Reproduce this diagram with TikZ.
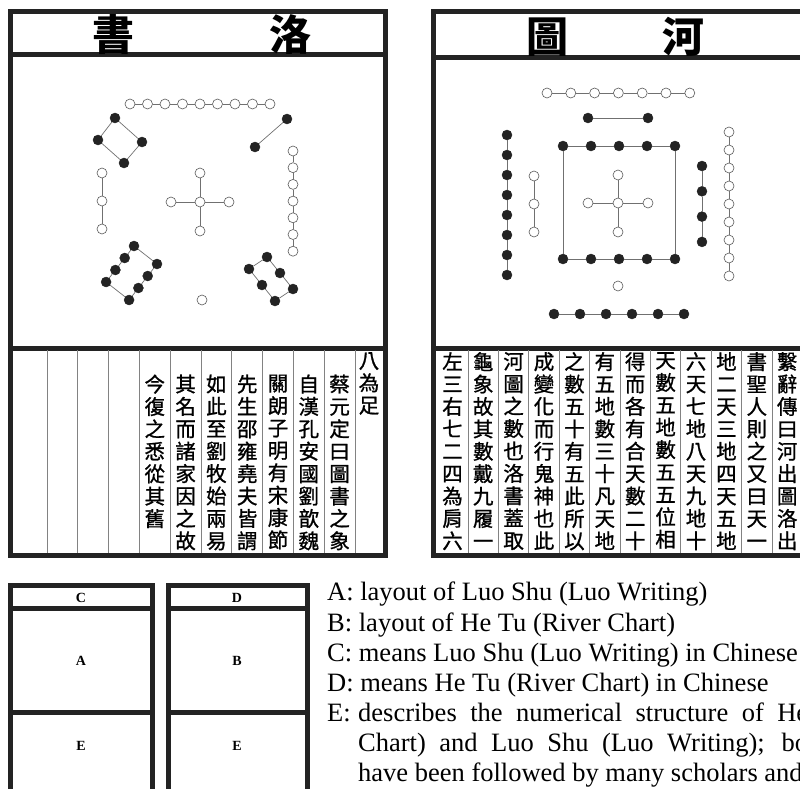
\documentclass[tikz,border=0pt]{standalone}
\usepackage{fontspec}
\setmainfont{Liberation Serif}
\newfontfamily\cjk{Noto Sans CJK TC}
\newfontfamily\cjkcol[FakeBold=1]{Noto Sans CJK TC}
\XeTeXlinebreaklocale "zh"
\XeTeXlinebreakskip=0pt plus 1pt
\usetikzlibrary{positioning}
\definecolor{ink}{RGB}{35,35,35}
\definecolor{rulecol}{RGB}{130,130,130}

\tikzset{
  frame/.style={draw=ink,line width=5pt},
  wdot/.style={circle,draw=ink!75,fill=white,line width=0.6pt,minimum size=10pt,inner sep=0pt},
  bdot/.style={circle,draw=ink,fill=ink,minimum size=10pt,inner sep=0pt},
  link/.style={draw=ink!65,line width=0.7pt},
  col/.style={font=\cjkcol\fontsize{20.5}{22.4}\selectfont,text width=24pt,align=center,inner sep=0pt,anchor=north},
  bigchar/.style={font=\cjk\bfseries\fontsize{42}{42}\selectfont,inner sep=0pt},
  boxlab/.style={font=\bfseries\fontsize{14}{14}\selectfont,inner sep=0pt},
  legend/.style={font=\fontsize{26.5}{30}\selectfont,anchor=base west,inner sep=0pt},
}

\begin{document}
\begin{tikzpicture}[x=1pt,y=-1pt]
  \fill[white] (0,0) rectangle (800,789);
  \useasboundingbox (0,0) rectangle (800,789);

  % ---------- Luo Shu
  \draw[frame] (10,12) rectangle (385,555);
  \draw[frame] (10,55) -- (385,55);
  \draw[frame] (10,348) -- (385,348);
  \node[bigchar] (lstitA) at (113,35) {書};
  \node[bigchar] (lstitB) at (290,35) {洛};
  % nine
  \foreach \i in {1,...,9}
    \node[wdot] (lsn\i) at ({130+17.5*(\i-1)},104) {};
  \foreach \i [count=\j from 2] in {1,...,8}
    \draw[link] (lsn\i) -- (lsn\j);
  % four
  \foreach \p [count=\i] in {(115,118),(142,142),(124,163),(98,140)}
    \node[bdot] (lsf\i) at \p {};
  \draw[link] (lsf1) -- (lsf2) -- (lsf3) -- (lsf4) -- (lsf1);
  % two
  \node[bdot] (lst1) at (287,119) {};
  \node[bdot] (lst2) at (255,147) {};
  \draw[link] (lst1) -- (lst2);
  % three
  \foreach \i in {1,2,3}
    \node[wdot] (lsh\i) at (102,{173+28*(\i-1)}) {};
  \draw[link] (lsh1) -- (lsh2) -- (lsh3);
  % five
  \node[wdot] (lsc0) at (200,202) {};
  \node[wdot] (lsc1) at (200,173) {};
  \node[wdot] (lsc2) at (229,202) {};
  \node[wdot] (lsc3) at (200,231) {};
  \node[wdot] (lsc4) at (171,202) {};
  \foreach \i in {1,...,4}
    \draw[link] (lsc0) -- (lsc\i);
  % seven
  \foreach \i in {1,...,7}
    \node[wdot] (lss\i) at (293,{151+16.7*(\i-1)}) {};
  \foreach \i [count=\j from 2] in {1,...,6}
    \draw[link] (lss\i) -- (lss\j);
  % eight
  \foreach \i in {1,...,4} {
    \node[bdot] (lse\i) at ({134-9.3*(\i-1)},{246+12*(\i-1)}) {};
    \node[bdot] (lsE\i) at ({157-9.3*(\i-1)},{264+12*(\i-1)}) {};
  }
  \draw[link] (lse1) -- (lse2) -- (lse3) -- (lse4) -- (lsE4) -- (lsE3) -- (lsE2) -- (lsE1) -- (lse1);
  % six
  \foreach \i in {1,2,3} {
    \node[bdot] (lsx\i) at ({267+13*(\i-1)},{257+16*(\i-1)}) {};
    \node[bdot] (lsX\i) at ({249+13*(\i-1)},{269+16*(\i-1)}) {};
  }
  \draw[link] (lsx1) -- (lsx2) -- (lsx3) -- (lsX3) -- (lsX2) -- (lsX1) -- (lsx1);
  % one
  \node[wdot] (lso) at (202,300) {};

  % columns of the Luo Shu side
  \foreach \k in {0,...,10}
    \draw[rulecol,line width=0.8pt] ({47+30.8*\k},350) -- ({47+30.8*\k},553);
  \node[col] (lc12) at (369,352) {八為足};
  \node[col] (lc11) at (339.6,374.4) {蔡元定曰圖書之象};
  \node[col] (lc10) at (308.8,374.4) {自漢孔安國劉歆魏};
  \node[col] (lc9) at (278,374.4) {關朗子明有宋康節};
  \node[col] (lc8) at (247.2,374.4) {先生邵雍堯夫皆謂};
  \node[col] (lc7) at (216.4,374.4) {如此至劉牧始兩易};
  \node[col] (lc6) at (185.6,374.4) {其名而諸家因之故};
  \node[col] (lc5) at (154.8,374.4) {今復之悉從其舊};

  % ---------- He Tu
  \draw[frame] (433,12) rectangle (810,555);
  \draw[frame] (433,58) -- (810,58);
  \draw[frame] (433,348) -- (810,348);
  \node[bigchar] (httitA) at (547,37) {圖};
  \node[bigchar] (httitB) at (683,37) {河};
  % seven
  \foreach \i in {1,...,7}
    \node[wdot] (hts\i) at ({547+23.8*(\i-1)},93) {};
  \foreach \i [count=\j from 2] in {1,...,6}
    \draw[link] (hts\i) -- (hts\j);
  % two
  \node[bdot] (htb1) at (588,118) {};
  \node[bdot] (htb2) at (648,118) {};
  \draw[link] (htb1) -- (htb2);
  % ten, as a square
  \foreach \i in {1,...,5} {
    \node[bdot] (htq\i) at ({563+28*(\i-1)},146) {};
    \node[bdot] (htp\i) at ({563+28*(\i-1)},259) {};
  }
  \draw[link] (htq1) -- (htq2) -- (htq3) -- (htq4) -- (htq5) -- (htp5)
    -- (htp4) -- (htp3) -- (htp2) -- (htp1) -- (htq1);
  % five
  \node[wdot] (htc0) at (618,203) {};
  \node[wdot] (htc1) at (618,175) {};
  \node[wdot] (htc2) at (648,203) {};
  \node[wdot] (htc3) at (618,232) {};
  \node[wdot] (htc4) at (588,203) {};
  \foreach \i in {1,...,4}
    \draw[link] (htc0) -- (htc\i);
  % three
  \foreach \i in {1,2,3}
    \node[wdot] (htl\i) at (534,{176+28*(\i-1)}) {};
  \draw[link] (htl1) -- (htl2) -- (htl3);
  % eight
  \foreach \i in {1,...,8}
    \node[bdot] (hte\i) at (507,{135+20*(\i-1)}) {};
  \foreach \i [count=\j from 2] in {1,...,7}
    \draw[link] (hte\i) -- (hte\j);
  % four
  \foreach \i in {1,...,4}
    \node[bdot] (htf\i) at (702,{166+25.3*(\i-1)}) {};
  \draw[link] (htf1) -- (htf2) -- (htf3) -- (htf4);
  % nine
  \foreach \i in {1,...,9}
    \node[wdot] (htn\i) at (729,{132+18*(\i-1)}) {};
  \foreach \i [count=\j from 2] in {1,...,8}
    \draw[link] (htn\i) -- (htn\j);
  % one
  \node[wdot] (hto) at (618,286) {};
  % six
  \foreach \i in {1,...,6}
    \node[bdot] (htx\i) at ({554+26*(\i-1)},314) {};
  \foreach \i [count=\j from 2] in {1,...,5}
    \draw[link] (htx\i) -- (htx\j);

  % columns of the He Tu side
  \foreach \k in {0,...,10}
    \draw[rulecol,line width=0.8pt] ({468+30.4*\k},350) -- ({468+30.4*\k},553);
  \node[col] (rc1) at (452.5,352) {左三右七二四為肩六};
  \node[col] (rc2) at (483.2,352) {龜象故其數戴九履一};
  \node[col] (rc3) at (513.6,352) {河圖之數也洛書蓋取};
  \node[col] (rc4) at (544,352) {成變化而行鬼神也此};
  \node[col] (rc5) at (574.4,352) {之數五十有五此所以};
  \node[col] (rc6) at (604.8,352) {有五地數三十凡天地};
  \node[col] (rc7) at (635.2,352) {得而各有合天數二十};
  \node[col] (rc8) at (665.6,352) {天數五地數五五位相};
  \node[col] (rc9) at (696,352) {六天七地八天九地十};
  \node[col] (rc10) at (726.4,352) {地二天三地四天五地};
  \node[col] (rc11) at (756.8,352) {書聖人則之又曰天一};
  \node[col] (rc12) at (787.2,352) {繫辭傳曰河出圖洛出};

  % ---------- key boxes
  \draw[frame] (10,585) rectangle (152,800);
  \draw[frame] (10,608) -- (152,608);
  \draw[frame] (10,712) -- (152,712);
  \draw[frame] (168,585) rectangle (307,800);
  \draw[frame] (168,608) -- (307,608);
  \draw[frame] (168,712) -- (307,712);
  \node[boxlab] (kc) at (81,598) {C};
  \node[boxlab] (ka) at (81,661) {A};
  \node[boxlab] (ke1) at (81,746) {E};
  \node[boxlab] (kd) at (237,598) {D};
  \node[boxlab] (kb) at (237,661) {B};
  \node[boxlab] (ke2) at (237,746) {E};

  % ---------- legend
  \node[legend] (la) at (327,600) {A: layout of Luo Shu (Luo Writing)};
  \node[legend] (lb) at (327,631) {B: layout of He Tu (River Chart)};
  \node[legend] (lcc) at (327,661) {C: means Luo Shu (Luo Writing) in Chinese};
  \node[legend] (ld) at (327,691) {D: means He Tu (River Chart) in Chinese};
  \node[legend] (le) at (327,721) {E:};
  \node[legend] (le1) at (358,721) {\makebox[450pt][s]{describes the numerical structure of He}};
  \node[legend] (le2) at (358,751) {\makebox[450pt][s]{Chart) and Luo Shu (Luo Writing); bo}};
  \node[legend] (le3) at (358,781) {have been followed by many scholars and};
\end{tikzpicture}
\end{document}
